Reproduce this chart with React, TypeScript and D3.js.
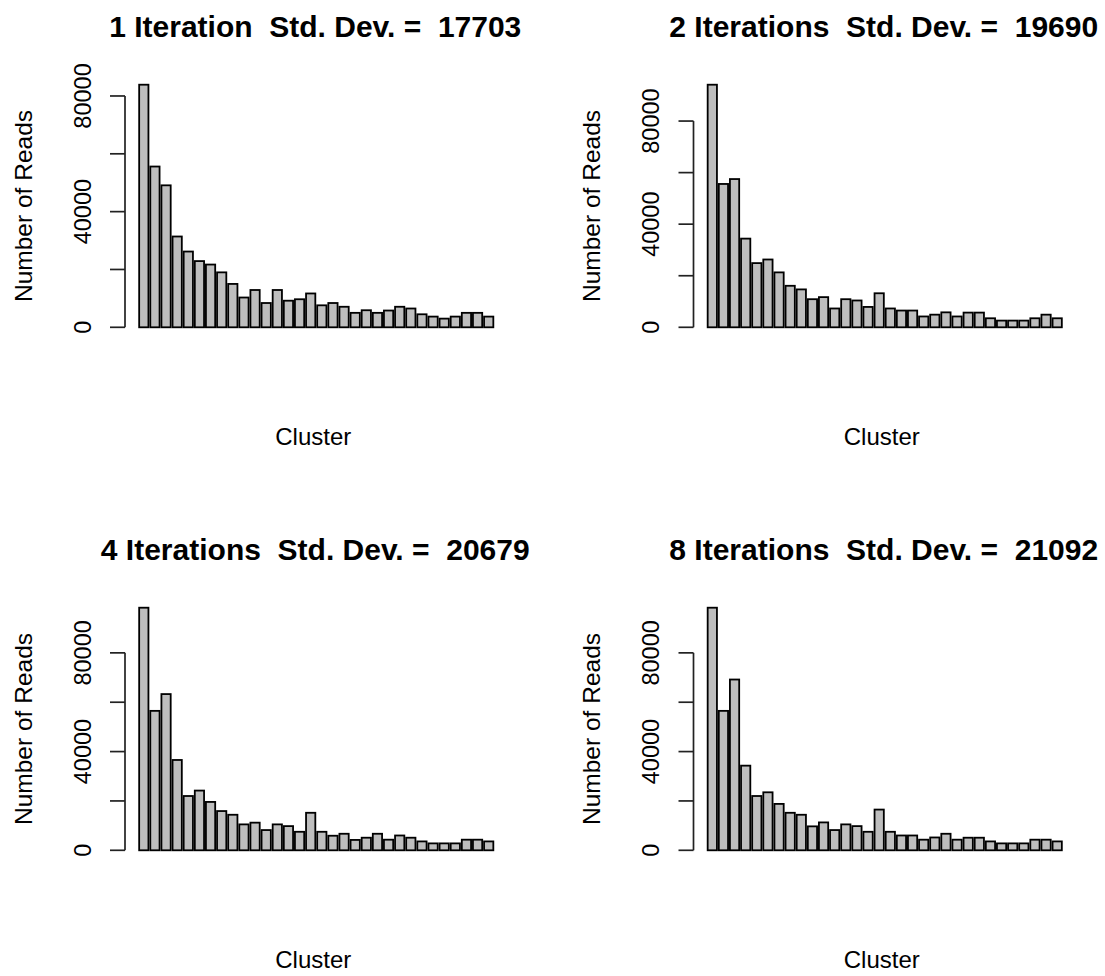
import React from "react";
import * as d3 from "d3";

// reads per cluster
const iter1Reads = [83900, 55600, 49100, 31400, 26200, 22900, 21700, 19000, 15000, 10300, 12900, 8400, 12900, 9200, 9700, 11700, 7600, 8400, 7100, 5000, 5900, 5000, 5800, 7100, 6500, 4500, 3700, 3000, 3700, 5000, 5000, 3700];
const iter2Reads = [94100, 55600, 57500, 34400, 24900, 26300, 21300, 16100, 14700, 10900, 11700, 7300, 10900, 10400, 7900, 13200, 7300, 6500, 6500, 4200, 4900, 5800, 4200, 5700, 5700, 3500, 2600, 2600, 2600, 3500, 4900, 3500];
const iter4Reads = [98300, 56500, 63300, 36600, 22000, 24200, 19600, 15900, 14400, 10500, 11200, 8200, 10500, 9800, 7500, 15200, 7500, 5900, 6700, 4200, 5100, 6700, 4300, 6000, 5100, 3600, 2800, 2800, 2800, 4300, 4300, 3600];
const iter8Reads = [98300, 56500, 69200, 34300, 22000, 23500, 18800, 15200, 14400, 9700, 11300, 8200, 10500, 9800, 7500, 16500, 7500, 6000, 6000, 4300, 5200, 6700, 4300, 5100, 5100, 3600, 2800, 2800, 2800, 4300, 4300, 3600];

const iterLabels = ["1 Iteration", "2 Iterations", "4 Iterations", "8 Iterations"];
const stdDevs = [17703, 19690, 20679, 21092];
const yTicks = [0, 20000, 40000, 60000, 80000];
const yTickLabels = ["0", "", "40000", "", "80000"];

const W = 382.5;
const H = 262;
const FONT = "'Liberation Sans', Arial, sans-serif";

const Panel = ({ data, title, left, top }) => {
  const n = data.length;
  // R barplot geometry: width 1, space 0.2, axes extended 4%
  const span = 1.2 * n - 0.2;
  const x = d3.scaleLinear()
    .domain([0.2 - 0.04 * span, 1.2 * n + 0.04 * span])
    .range([0, W]);
  const ymax = d3.max(data);
  const y = d3.scaleLinear()
    .domain([-0.04 * ymax, 1.04 * ymax])
    .range([H, 0]);
  const ticks = yTicks.filter(t => t <= ymax * 1.04);

  return (
    <g transform={`translate(${left},${top})`}>
      {data.map((v, i) => (
        <rect key={i}
          x={x(0.2 + 1.2 * i)}
          y={y(v)}
          width={x(1.2) - x(0.2)}
          height={y(0) - y(v)}
          fill="#bebebe" stroke="#000" strokeWidth={1.8} />
      ))}
      <line x1={0} x2={0} y1={y(ticks[0])} y2={y(ticks[ticks.length - 1])} stroke="#222" strokeWidth={1.7} />
      {ticks.map((t, i) => (
        <g key={t}>
          <line x1={-15} x2={0} y1={y(t)} y2={y(t)} stroke="#222" strokeWidth={1.7} />
          {yTickLabels[i] && (
            <text transform={`translate(${-34.3},${y(t)}) rotate(-90)`} textAnchor="middle"
              fontSize={23.5} fontFamily={FONT}>{yTickLabels[i]}</text>
          )}
        </g>
      ))}
      <text x={W / 2 - 1} y={-38.5} textAnchor="middle" fontSize={30} fontWeight="bold"
        fontFamily={FONT} style={{ whiteSpace: "pre" }}>{title}</text>
      <text x={W / 2 - 3} y={370} textAnchor="middle" fontSize={24} fontFamily={FONT}>Cluster</text>
      <text transform={`translate(${-93.5},${H / 2}) rotate(-90)`} textAnchor="middle"
        fontSize={24.5} fontFamily={FONT}>Number of Reads</text>
    </g>
  );
};

export default function App() {
  const series = [iter1Reads, iter2Reads, iter4Reads, iter8Reads];
  const lefts = [125, 693.5];
  const tops = [75, 598];
  return (
    <svg width={1105} height={976} style={{ position: "absolute", left: 0, top: 0, background: "#fff" }}>
      <rect width={1105} height={976} fill="#fff" />
      {series.map((d, i) => (
        <Panel key={i} data={d}
          title={`${iterLabels[i]}  Std. Dev. =  ${stdDevs[i]}`}
          left={lefts[i % 2]} top={tops[Math.floor(i / 2)]} />
      ))}
    </svg>
  );
}
